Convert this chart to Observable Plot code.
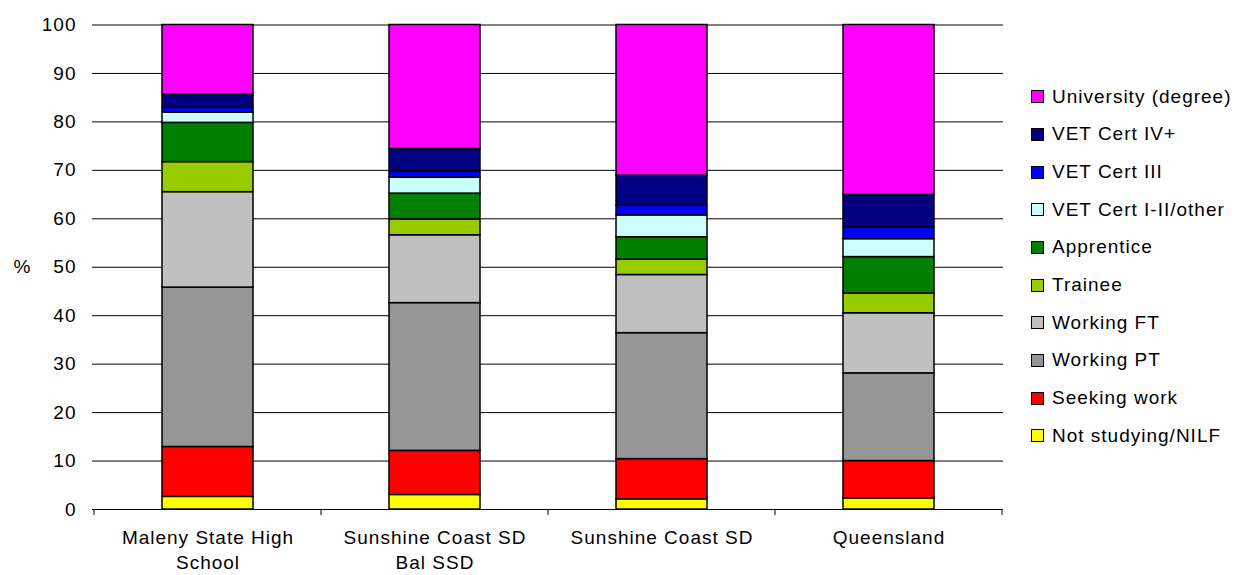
<!DOCTYPE html>
<html>
<head>
<meta charset="utf-8">
<script src="https://cdn.jsdelivr.net/npm/d3@7"></script>
<script src="https://cdn.jsdelivr.net/npm/@observablehq/plot@0.6"></script>
<style>
  body { margin: 0; background: #fff; font-family: "Liberation Sans", Arial, sans-serif; }
  #wrap { position: relative; width: 1240px; height: 575px; overflow: hidden; }
  #legend { position: absolute; left: 1031px; top: 78px; }
  .item { display: flex; align-items: center; height: 37.67px; font-size: 19px; letter-spacing: 1px; color: #000; white-space: nowrap; }
  .sw { width: 11px; height: 11px; border: 1px solid #000; margin-right: 8px; flex: none; }
</style>
</head>
<body>
<div id="wrap"><div id="chart"></div><div id="legend"></div></div>
<script>
// Destinations of school leavers, % of each group
const categories = ["Maleny State High School", "Sunshine Coast SD Bal SSD", "Sunshine Coast SD", "Queensland"];
const categoryLabels = ["Maleny State High\nSchool", "Sunshine Coast SD\nBal SSD", "Sunshine Coast SD", "Queensland"];

// Stack order, bottom to top
const series = [
  "Not studying/NILF", "Seeking work", "Working PT", "Working FT", "Trainee",
  "Apprentice", "VET Cert I-II/other", "VET Cert III", "VET Cert IV+", "University (degree)"
];
const seriesColors = [
  "#ffff00", "#ff0000", "#969696", "#c0c0c0", "#99cc00",
  "#008000", "#ccffff", "#0000ff", "#000080", "#ff00ff"
];

// Values per category (same order as categories)
const notStudying = [2.6, 3.0, 2.1, 2.3];
const seekingWork = [10.3, 9.1, 8.3, 7.7];
const workingPT   = [32.9, 30.5, 26.0, 18.1];
const workingFT   = [19.7, 14.0, 12.0, 12.4];
const trainee     = [6.2, 3.3, 3.2, 4.1];
const apprentice  = [8.1, 5.3, 4.6, 7.5];
const vetCert1_2  = [2.1, 3.3, 4.5, 3.7];
const vetCert3    = [1.0, 1.3, 2.0, 2.4];
const vetCert4    = [2.8, 4.6, 6.2, 6.7];
const university  = [14.3, 25.6, 31.1, 35.1];

const yTicks = [0, 10, 20, 30, 40, 50, 60, 70, 80, 90, 100];

const seriesValues = [notStudying, seekingWork, workingPT, workingFT, trainee,
  apprentice, vetCert1_2, vetCert3, vetCert4, university];

const rows = [];
categories.forEach((c, ci) => {
  series.forEach((s, si) => rows.push({category: c, series: s, value: seriesValues[si][ci]}));
});

// Small downward ticks on the category boundaries of the x axis
function boundaryTicks(index, scales, values, dimensions) {
  const x = scales.x, y = scales.y;
  const bw = x.bandwidth ? x.bandwidth() : 0;
  const centers = categories.map(c => x(c) + bw / 2);
  const step = centers[1] - centers[0];
  const edges = centers.map(c => c - step / 2).concat([centers[centers.length - 1] + step / 2]);
  const y0 = y(0);
  const g = d3.create("svg:g").attr("stroke", "#000").attr("stroke-width", 1);
  for (const e of edges) {
    g.append("line").attr("x1", e).attr("x2", e).attr("y1", y0).attr("y2", y0 + 6);
  }
  return g.node();
}

const chart = Plot.plot({
  width: 1010,
  height: 575,
  marginLeft: 92,
  marginRight: 7,
  marginTop: 24.5,
  marginBottom: 66,
  style: {fontFamily: "'Liberation Sans', Arial, sans-serif", fontSize: "19px", letterSpacing: "1px", color: "#000", background: "#fff"},
  x: {domain: categories, paddingInner: 0.6, paddingOuter: 0.3, label: null},
  y: {domain: [0, 100], label: null},
  color: {domain: series, range: seriesColors},
  marks: [
    Plot.gridY(yTicks, {stroke: "#000", strokeOpacity: 1, strokeWidth: 1}),
    Plot.barY(rows, {x: "category", y: "value", fill: "series", stroke: "#000", strokeWidth: 1.5, order: null}),
    Plot.ruleY([0], {stroke: "#000", strokeWidth: 1}),
    Plot.axisY({ticks: yTicks, tickSize: 0, tickPadding: 16, label: null, fill: "#000"}),
    Plot.axisX({tickSize: 0, tickPadding: 17, label: null, lineHeight: 1.3, fill: "#000",
      tickFormat: (d) => categoryLabels[categories.indexOf(d)]}),
    Plot.text(["%"], {frameAnchor: "left", dx: -70, textAnchor: "middle", fill: "#000"}),
    boundaryTicks
  ]
});
document.getElementById("chart").append(chart);

// Legend, top to bottom in reverse stack order
const legend = d3.select("#legend");
series.slice().reverse().forEach((s) => {
  const item = legend.append("div").attr("class", "item");
  item.append("div").attr("class", "sw").style("background", seriesColors[series.indexOf(s)]);
  item.append("span").text(s);
});
</script>
</body>
</html>
